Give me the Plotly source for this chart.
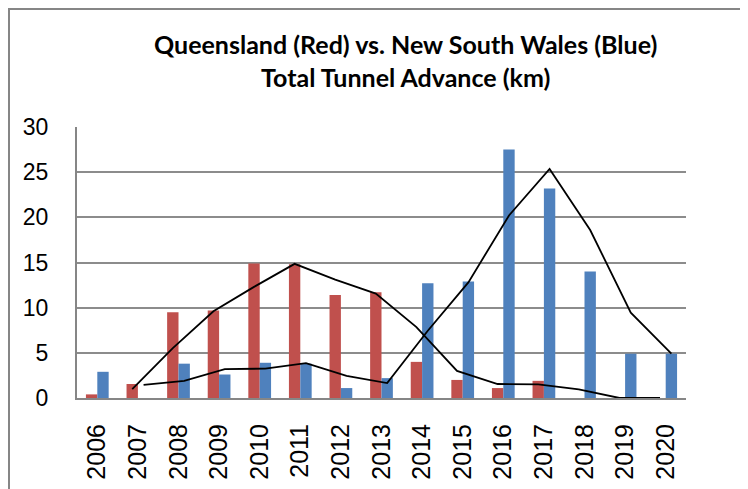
import plotly.graph_objects as go
import pandas as pd

years = ["2006", "2007", "2008", "2009", "2010", "2011", "2012", "2013",
         "2014", "2015", "2016", "2017", "2018", "2019", "2020"]
queensland = [0.4, 1.55, 9.5, 9.7, 14.9, 14.8, 11.4, 11.7, 4.0, 2.0, 1.1, 1.9, 0, 0, 0]
nsw = [2.9, 0, 3.8, 2.6, 3.9, 3.8, 1.1, 2.2, 12.7, 12.9, 27.5, 23.2, 14.0, 4.9, 4.9]
y_ticks = [0, 5, 10, 15, 20, 25, 30]

RED = "#C0504D"
BLUE = "#4F81BD"
BAR_W = 0.28

idx = list(range(len(years)))
qld_ma = pd.Series(queensland).rolling(2).mean()
nsw_ma = pd.Series(nsw).rolling(2).mean()

fig = go.Figure()
fig.add_trace(go.Bar(x=idx, y=queensland, width=BAR_W, offset=-BAR_W,
                     marker=dict(color=RED, line=dict(width=0)), name="Queensland"))
fig.add_trace(go.Bar(x=idx, y=nsw, width=BAR_W, offset=0,
                     marker=dict(color=BLUE, line=dict(width=0)), name="New South Wales"))
fig.add_trace(go.Scatter(x=[i - BAR_W / 2 for i in idx], y=qld_ma, mode="lines",
                         line=dict(color="black", width=1.8), connectgaps=False))
fig.add_trace(go.Scatter(x=[i + BAR_W / 2 for i in idx], y=nsw_ma, mode="lines",
                         line=dict(color="black", width=1.8), connectgaps=False))

# page body has an 8px margin; figure coordinates are page coordinates minus 8
OFF = 8
W, H = 748 - OFF, 489 - OFF
L, T = 77 - OFF, 127 - OFF
R = W - (686 - OFF)
B = H - (398 - OFF)
pw, ph = W - L - R, H - T - B

def px(x):
    return (x - OFF - L) / pw

def py(y):
    return (H - B - (y - OFF)) / ph

border = dict(color="#868686", width=2)
fig.update_layout(
    width=W, height=H,
    margin=dict(l=L, r=R, t=T, b=B, autoexpand=False),
    paper_bgcolor="white", plot_bgcolor="white",
    showlegend=False,
    xaxis=dict(range=[-0.5, len(years) - 0.5], tickmode="array", tickvals=idx,
               ticktext=years, tickangle=-90, showgrid=False, zeroline=False,
               showline=True, linecolor="#868686", linewidth=2, ticks="",
               ticklabelstandoff=14,
               tickfont=dict(family="Liberation Sans, Arial", size=25, color="black")),
    yaxis=dict(range=[0, 30], tickmode="array", tickvals=y_ticks,
               showgrid=True, gridcolor="#8c8c8c", gridwidth=2, zeroline=False,
               showline=True, linecolor="#868686", linewidth=2, ticks="",
               ticklabelstandoff=22,
               tickfont=dict(family="Liberation Sans, Arial", size=23, color="black")),
    annotations=[dict(
        text="<b>Queensland (Red) vs. New South Wales (Blue)</b><br><b>Total Tunnel Advance (km)</b>",
        xref="paper", yref="paper", x=px(405), y=py(61), xanchor="center", yanchor="middle",
        showarrow=False, align="center",
        font=dict(family="Lato", size=25, color="black"))],
    shapes=[
        dict(type="line", xref="paper", yref="paper",
             x0=px(8), x1=px(760), y0=py(9), y1=py(9), line=border, layer="below"),
        dict(type="line", xref="paper", yref="paper",
             x0=px(9), x1=px(9), y0=py(8), y1=py(520), line=border, layer="below"),
    ],
)

fig.write_html("out.html")
